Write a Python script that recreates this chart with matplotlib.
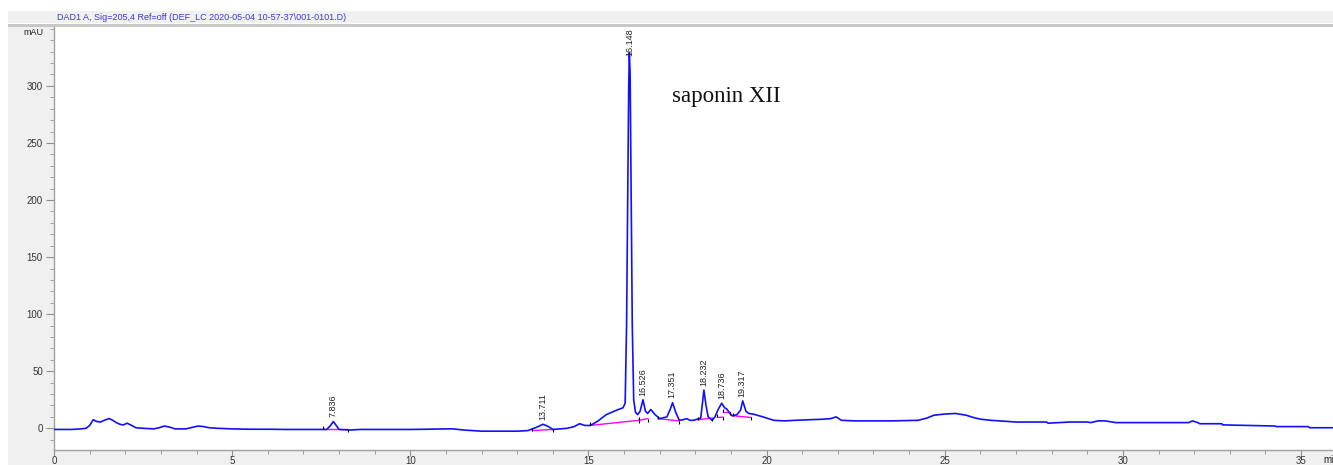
import matplotlib
matplotlib.use('Agg')
import matplotlib.pyplot as plt
from matplotlib.patches import Rectangle
from matplotlib.ticker import MultipleLocator

# signal trace (time in min, signal in mAU)
tiempo = [0.0, 0.5, 0.75, 0.9, 1.0, 1.1, 1.2, 1.3, 1.45, 1.55, 1.65, 1.75, 1.85, 1.95,
          2.05, 2.15, 2.3, 2.5, 2.8, 2.95, 3.1, 3.25, 3.4, 3.7, 3.9, 4.05, 4.2, 4.35,
          4.6, 5.0, 5.5, 6.0, 6.5, 7.0, 7.5, 7.65, 7.75, 7.84, 7.93, 8.0, 8.3, 8.6,
          9.0, 9.5, 10.0, 10.5, 11.0, 11.2, 11.5, 12.0, 12.5, 13.0, 13.3, 13.55,
          13.72, 13.85, 14.0, 14.2, 14.4, 14.6, 14.75, 14.9, 15.05, 15.25, 15.5,
          15.8, 15.97, 16.03, 16.07, 16.10, 16.13, 16.148, 16.17, 16.20, 16.23,
          16.27, 16.32, 16.38, 16.45, 16.53, 16.60, 16.66, 16.75, 16.87, 17.0,
          17.2, 17.3, 17.36, 17.45, 17.55, 17.65, 17.76, 17.85, 17.95, 18.05,
          18.15, 18.2, 18.24, 18.3, 18.36, 18.47, 18.55, 18.64, 18.74, 18.82,
          18.88, 18.95, 19.03, 19.17, 19.27, 19.33, 19.42, 19.5, 19.62, 19.9,
          20.2, 20.5, 20.8, 21.2, 21.6, 21.8, 21.95, 22.1, 22.5, 23.0, 23.5,
          24.25, 24.5, 24.7, 25.0, 25.3, 25.6, 25.8, 26.0, 26.3, 26.55, 27.0,
          27.85, 27.9, 28.5, 29.0, 29.1, 29.3, 29.5, 29.8, 30.5, 31.0, 31.5,
          31.85, 31.95, 32.1, 32.16, 32.78, 32.8, 33.5, 34.27, 34.3, 35.2, 35.25,
          35.9]
senal = [-1, -1, -0.5, 0, 2.5, 7.5, 6, 5.5, 7.5, 8.5, 7, 5, 3.5, 3,
         4.5, 3, 0.5, 0, -0.5, 0.5, 2, 1, -0.5, -0.5, 1, 2, 1.5, 0.5,
         0, -0.5, -0.8, -0.8, -1, -1, -1, -1, 2, 6, 2, -1, -1.5, -1,
         -1, -1, -1, -0.8, -0.5, -0.5, -1.5, -2.5, -2.5, -2.5, -2, 1,
         3.5, 2, -1, -0.5, 0, 1.5, 4, 2.5, 2.5, 6, 12,
         16, 18, 22, 90, 200, 300, 329, 310, 200, 90,
         25, 14, 12, 15, 25, 15, 13, 16.5, 12, 8.5,
         10, 17, 22.5, 14, 7, 7.5, 8.5, 7, 7, 8,
         9, 22, 33.5, 20, 10, 7, 10, 16.5, 22, 18,
         17, 14, 11, 12, 16, 24, 15, 13, 12.5, 10,
         7, 6.5, 7, 7.5, 8, 8.5, 10, 7, 6.5, 6.5, 6.5,
         7, 9, 11.5, 12.5, 13, 11.5, 9.5, 8, 7, 6.5, 5.5,
         5.5, 4.5, 5.5, 5.5, 5, 6.5, 6.5, 5, 5, 5, 5,
         5, 6.5, 5, 4, 4, 3, 2.5, 2, 1.5, 1.5, 0.5,
         0.5]

# integration baselines (start t, start mAU, end t, end mAU)
base_t0 = [7.56, 13.42, 15.04, 16.42, 16.95, 18.08, 18.62, 18.78, 19.06]
base_v0 = [-1, -2, 2.5, 7, 8.5, 7.5, 9.5, 14, 11]
base_t1 = [8.25, 14.0, 16.42, 16.67, 17.54, 18.47, 18.78, 18.98, 19.56]
base_v1 = [-1, -1, 7, 8.5, 6.5, 9, 9.8, 14, 9.5]

# peak labels
pico_t = [7.836, 13.711, 16.148, 16.526, 17.351, 18.232, 18.736, 19.317]
pico_v = [6, 3.5, 329, 25, 22.5, 33.5, 22, 24]
pico_txt = ['7.836', '13.711', '16.148', '16.526', '17.351', '18.232', '18.736', '19.317']

W, H = 1333, 465
fig = plt.figure(figsize=(W / 100, H / 100), dpi=100)
fig.patch.set_facecolor('white')

# grey window background and header band
fig.patches.append(Rectangle((8 / W, 0), 1, 1 - 11 / H, transform=fig.transFigure,
                             facecolor='#f0f0f0', edgecolor='none', zorder=-10))
fig.patches.append(Rectangle((8 / W, 1 - 27 / H), 1, 2.5 / H, transform=fig.transFigure,
                             facecolor='#c8c8c8', edgecolor='none', zorder=-9))
fig.patches.append(Rectangle((8 / W, 1 - 24.5 / H), 1, 1 / H, transform=fig.transFigure,
                             facecolor='white', edgecolor='none', zorder=-9))
fig.text(57 / W, 1 - 17 / H, 'DAD1 A, Sig=205,4 Ref=off (DEF_LC 2020-05-04 10-57-37\\001-0101.D)',
         color='#3a3ad8', fontsize=6.5, family='Liberation Sans', va='center', ha='left')

ax = fig.add_axes([54 / W, 15 / H, (W - 54) / W, 423 / H])
ax.set_zorder(5)
ax.set_facecolor('white')
ax.set_xlim(0, (W - 54) / 35.63)
ax.set_ylim(-19, 351.6)

for s in ['top', 'right']:
    ax.spines[s].set_visible(False)
for s in ['left', 'bottom']:
    ax.spines[s].set_color('#a0a0a0')
    ax.spines[s].set_linewidth(1)

ax.xaxis.set_major_locator(MultipleLocator(5))
ax.xaxis.set_minor_locator(MultipleLocator(1))
ax.yaxis.set_major_locator(MultipleLocator(50))
ax.yaxis.set_minor_locator(MultipleLocator(10))
ax.set_yticks([0, 50, 100, 150, 200, 250, 300])
ax.tick_params(axis='x', which='major', length=4, color='#909090', pad=0.5,
               labelsize=7, labelcolor='#333333')
ax.tick_params(axis='x', which='minor', length=3, color='#909090')
ax.tick_params(axis='y', which='major', length=6, color='#909090', pad=2,
               labelsize=7, labelcolor='#333333')
ax.tick_params(axis='y', which='minor', length=3, color='#909090')
for lab in ax.get_xticklabels() + ax.get_yticklabels():
    lab.set_family('Liberation Sans')

ax.plot(tiempo, senal, color='#1010ff', linewidth=1.2, zorder=3)

for t0, v0, t1, v1 in zip(base_t0, base_v0, base_t1, base_v1):
    ax.plot([t0, t1], [v0, v1], color='#ff00ff', linewidth=1, zorder=2)
    ax.plot([t0], [v0], marker=2, color='black', markersize=2.5, markeredgewidth=0.8, zorder=4)
    ax.plot([t1], [v1], marker=3, color='black', markersize=2.5, markeredgewidth=0.8, zorder=4)

for t, v, txt in zip(pico_t, pico_v, pico_txt):
    if v > 300:
        ax.text(t, 350, txt, rotation=90, ha='center', va='top', fontsize=6.5,
                family='Liberation Sans', color='#222222', zorder=5)
    else:
        ax.annotate(txt, (t, v), xytext=(0, 3), textcoords='offset points', rotation=90,
                    ha='center', va='bottom', fontsize=6.5, family='Liberation Sans',
                    color='#222222', zorder=5)

ax.text(-0.008, 0.988, 'mAU', transform=ax.transAxes, ha='right', va='center',
        fontsize=6.5, family='Liberation Sans', color='#222222')
fig.text(1323 / W, 1 - 460 / H, 'mi', ha='left', va='center', fontsize=7,
         family='Liberation Sans', color='#222222', zorder=10)

ax.text(17.35, 286, 'saponin XII', fontsize=16.5, family='Liberation Serif', color='#111111',
        ha='left', va='baseline')

plt.savefig('out.png', dpi=100, facecolor=fig.get_facecolor())
